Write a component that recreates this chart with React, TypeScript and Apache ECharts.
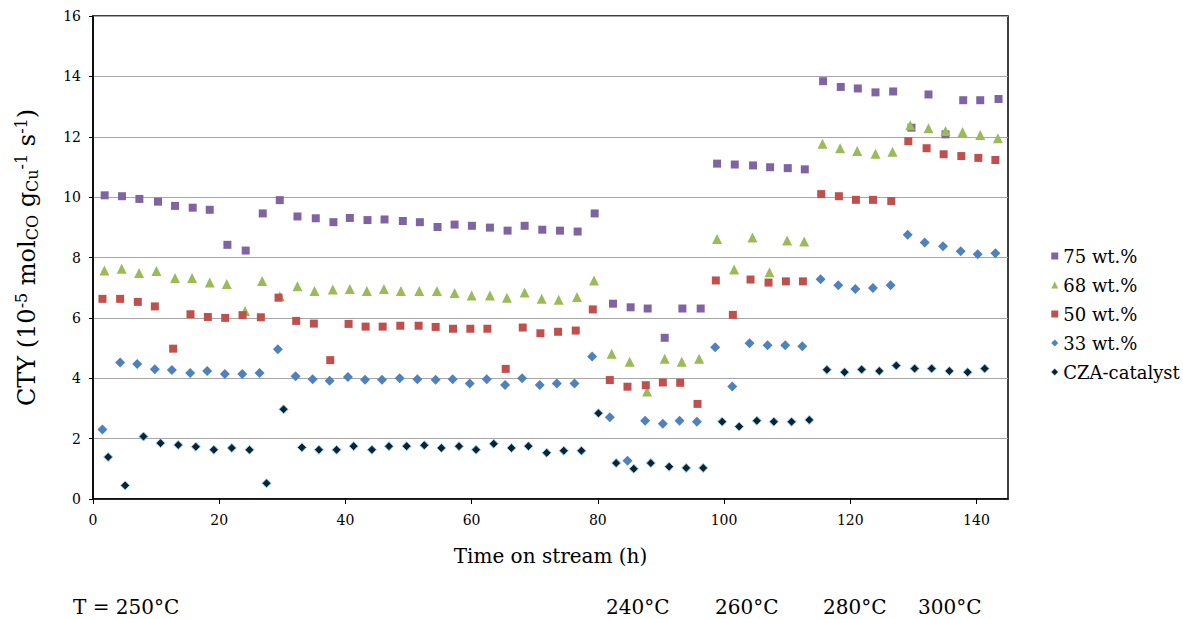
import { useEffect, useRef } from "react";
import * as echarts from "echarts";

// ---- Data ----
const hours75 = [1.85, 4.6, 7.35, 10.3, 13.0, 15.8, 18.5, 21.3, 24.2, 26.9, 29.6, 32.4, 35.3, 38.1, 40.7, 43.5, 46.2, 49.1, 51.8, 54.6, 57.3, 60.05, 62.9, 65.7, 68.4, 71.2, 74.0, 76.8, 79.5, 82.4, 85.2, 87.9, 90.6, 93.4, 96.3, 98.9, 101.7, 104.6, 107.3, 110.1, 112.8, 115.7, 118.5, 121.2, 124.0, 126.8, 129.7, 132.4, 135.1, 137.9, 140.6, 143.5];
const cty75 = [10.06, 10.03, 9.94, 9.85, 9.71, 9.65, 9.58, 8.42, 8.23, 9.46, 9.9, 9.36, 9.3, 9.17, 9.31, 9.24, 9.26, 9.21, 9.17, 9.01, 9.09, 9.05, 8.99, 8.89, 9.05, 8.92, 8.89, 8.86, 9.46, 6.47, 6.35, 6.31, 5.34, 6.31, 6.31, 11.11, 11.08, 11.05, 10.99, 10.96, 10.92, 13.84, 13.65, 13.6, 13.47, 13.5, 12.3, 13.4, 12.08, 13.21, 13.21, 13.25];

const hours68 = [1.8, 4.55, 7.3, 10.05, 13.0, 15.7, 18.5, 21.2, 24.1, 26.8, 29.6, 32.4, 35.1, 38.0, 40.7, 43.4, 46.1, 48.8, 51.7, 54.5, 57.3, 60.0, 62.9, 65.6, 68.4, 71.1, 73.8, 76.7, 79.4, 82.2, 85.05, 87.8, 90.6, 93.3, 96.05, 98.9, 101.6, 104.5, 107.2, 110.0, 112.7, 115.6, 118.4, 121.1, 124.0, 126.7, 129.5, 132.4, 135.1, 137.8, 140.6, 143.4];
const cty68 = [7.57, 7.63, 7.49, 7.55, 7.32, 7.32, 7.17, 7.12, 6.23, 7.22, 6.72, 7.05, 6.89, 6.94, 6.96, 6.89, 6.96, 6.89, 6.89, 6.89, 6.82, 6.74, 6.74, 6.67, 6.84, 6.63, 6.6, 6.69, 7.24, 4.81, 4.55, 3.56, 4.65, 4.55, 4.65, 8.61, 7.6, 8.66, 7.51, 8.56, 8.53, 11.77, 11.62, 11.53, 11.44, 11.5, 12.38, 12.28, 12.19, 12.16, 12.06, 11.95];

const hours50 = [1.5, 4.3, 7.1, 9.8, 12.7, 15.45, 18.2, 20.95, 23.7, 26.6, 29.4, 32.2, 35.0, 37.6, 40.5, 43.2, 45.9, 48.7, 51.6, 54.3, 57.05, 59.8, 62.5, 65.4, 68.1, 70.9, 73.7, 76.5, 79.2, 81.9, 84.7, 87.6, 90.3, 93.05, 95.8, 98.7, 101.4, 104.2, 107.05, 109.8, 112.5, 115.4, 118.2, 120.9, 123.6, 126.5, 129.2, 132.1, 134.8, 137.6, 140.3, 143.0];
const cty50 = [6.63, 6.63, 6.53, 6.38, 4.98, 6.12, 6.03, 6.0, 6.09, 6.02, 6.67, 5.9, 5.81, 4.6, 5.8, 5.71, 5.71, 5.74, 5.74, 5.7, 5.64, 5.64, 5.64, 4.31, 5.68, 5.49, 5.54, 5.58, 6.28, 3.94, 3.72, 3.77, 3.86, 3.85, 3.15, 7.24, 6.1, 7.27, 7.17, 7.21, 7.21, 10.1, 10.03, 9.91, 9.91, 9.87, 11.85, 11.62, 11.42, 11.36, 11.3, 11.23];

const hours33 = [1.5, 4.3, 7.0, 9.8, 12.5, 15.4, 18.1, 20.9, 23.65, 26.4, 29.3, 32.1, 34.8, 37.5, 40.4, 43.1, 45.8, 48.6, 51.4, 54.3, 57.0, 59.7, 62.4, 65.3, 68.0, 70.8, 73.5, 76.3, 79.1, 81.9, 84.7, 87.5, 90.3, 92.95, 95.7, 98.6, 101.3, 104.05, 106.9, 109.7, 112.4, 115.3, 118.1, 120.8, 123.6, 126.4, 129.1, 131.8, 134.7, 137.5, 140.2, 143.0];
const cty33 = [2.3, 4.52, 4.47, 4.3, 4.27, 4.17, 4.24, 4.14, 4.14, 4.17, 4.96, 4.07, 3.97, 3.92, 4.04, 3.95, 3.95, 4.0, 3.97, 3.95, 3.97, 3.83, 3.97, 3.78, 4.0, 3.78, 3.83, 3.83, 4.72, 2.71, 1.27, 2.59, 2.49, 2.59, 2.56, 5.03, 3.73, 5.16, 5.09, 5.09, 5.06, 7.28, 7.08, 6.96, 6.99, 7.08, 8.75, 8.5, 8.37, 8.21, 8.11, 8.14];

const hoursCZA = [2.4, 5.1, 8.0, 10.7, 13.5, 16.3, 19.15, 22.0, 24.8, 27.5, 30.2, 33.1, 35.8, 38.6, 41.3, 44.2, 46.9, 49.7, 52.5, 55.2, 58.0, 60.7, 63.5, 66.3, 69.0, 71.9, 74.6, 77.4, 80.1, 82.9, 85.7, 88.4, 91.3, 94.0, 96.7, 99.7, 102.4, 105.2, 107.9, 110.7, 113.5, 116.3, 119.1, 121.8, 124.6, 127.3, 130.2, 132.9, 135.7, 138.6, 141.3];
const ctyCZA = [1.39, 0.45, 2.07, 1.85, 1.79, 1.73, 1.63, 1.69, 1.63, 0.52, 2.97, 1.71, 1.63, 1.63, 1.75, 1.63, 1.75, 1.75, 1.78, 1.69, 1.75, 1.63, 1.83, 1.69, 1.75, 1.53, 1.6, 1.6, 2.84, 1.19, 1.0, 1.19, 1.07, 1.03, 1.03, 2.56, 2.4, 2.59, 2.56, 2.56, 2.62, 4.28, 4.2, 4.29, 4.24, 4.42, 4.32, 4.32, 4.24, 4.2, 4.32];

const seriesNames = ["75 wt.%", "68 wt.%", "50 wt.%", "33 wt.%", "CZA-catalyst"];
const xTickValues = [0, 20, 40, 60, 80, 100, 120, 140];
const temperatureLabels = ["T = 250°C", "240°C", "260°C", "280°C", "300°C"];

const FONT = "DejaVu Serif";

function pairs(xs: number[], ys: number[]) {
  return xs.map((x, i) => [x, ys[i]]);
}

export default function App() {
  const ref = useRef<HTMLDivElement>(null);

  useEffect(() => {
    if (!ref.current) return;
    const chart = echarts.init(ref.current, null, { renderer: "svg" });

    const styles = [
      { symbol: "rect", size: 8, color: "#8064A2", border: "#8064A2", bw: 0 },
      { symbol: "triangle", size: 10, color: "#9BBB59", border: "#9BBB59", bw: 0 },
      { symbol: "rect", size: 8, color: "#C0504D", border: "#C0504D", bw: 0 },
      { symbol: "diamond", size: 10, color: "#4F81BD", border: "#4F81BD", bw: 0 },
      { symbol: "diamond", size: 9, color: "#0E2235", border: "#8FD3E8", bw: 1 },
    ];
    const dataSets = [
      pairs(hours75, cty75),
      pairs(hours68, cty68),
      pairs(hours50, cty50),
      pairs(hours33, cty33),
      pairs(hoursCZA, ctyCZA),
    ];

    const tempX = [73, 606, 715, 823, 918];

    const option: any = {
      animation: false,
      backgroundColor: "#fff",
      textStyle: { fontFamily: FONT },
      grid: {
        left: 93,
        right: 175,
        top: 16,
        bottom: 120,
        show: true,
        borderColor: "#000",
        borderWidth: 1.5,
        backgroundColor: "transparent",
      },
      legend: {
        orient: "vertical",
        left: 1046,
        top: 242,
        itemWidth: 7,
        itemHeight: 7,
        itemGap: 11,
        textStyle: { fontFamily: FONT, fontSize: 18, color: "#000" },
        data: seriesNames.map((n, i) =>
          i === 4 ? { name: n, itemStyle: { borderWidth: 0.5, borderColor: "#8FD3E8" } } : { name: n }
        ),
      },
      xAxis: {
        type: "value",
        min: 0,
        max: 145,
        interval: 20,
        name: "Time on stream (h)",
        nameLocation: "middle",
        nameGap: 47,
        nameTextStyle: { fontFamily: FONT, fontSize: 20, color: "#000" },
        axisLine: { show: true, lineStyle: { color: "#000", width: 1.5 } },
        axisTick: { show: true, length: 5, lineStyle: { color: "#000" }, customValues: xTickValues },
        axisLabel: {
          fontFamily: FONT,
          fontSize: 14,
          color: "#000",
          margin: 14,
          customValues: xTickValues,
          formatter: (v: number) => (v % 20 === 0 ? String(v) : ""),
        },
        splitLine: { show: false },
      },
      yAxis: {
        type: "value",
        min: 0,
        max: 16,
        interval: 2,
        name:
          "{m|CTY (10}{sup|-5}{m| mol}{sub|CO}{m| g}{sub|Cu}{sup|-1}{m| s}{sup|-1}{m|)}",
        nameLocation: "middle",
        nameRotate: 90,
        nameGap: 52,
        nameTextStyle: {
          fontFamily: FONT,
          color: "#000",
          rich: {
            m: { fontFamily: FONT, fontSize: 24, color: "#000" },
            sup: { fontFamily: FONT, fontSize: 16, color: "#000", padding: [0, 0, 12, 0] },
            sub: { fontFamily: FONT, fontSize: 16, color: "#000", padding: [10, 0, 0, 0] },
          },
        },
        axisLine: { show: true, lineStyle: { color: "#000", width: 1.5 } },
        axisTick: { show: true, length: 4, lineStyle: { color: "#000" } },
        axisLabel: { fontFamily: FONT, fontSize: 14, color: "#000", margin: 12 },
        splitLine: { show: true, lineStyle: { color: "#A6A6A6", width: 1 } },
      },
      series: seriesNames.map((name, i) => ({
        name,
        type: "scatter",
        data: dataSets[i],
        symbol: styles[i].symbol,
        symbolSize: styles[i].size,
        itemStyle: {
          color: styles[i].color,
          borderColor: styles[i].border,
          borderWidth: styles[i].bw,
          opacity: 1,
        },
        emphasis: { disabled: true },
        z: 2 + i,
      })),
      graphic: temperatureLabels.map((t, i) => ({
        type: "text",
        left: tempX[i],
        top: 597,
        style: { text: t, fontFamily: FONT, fontSize: 20, fill: "#000" },
      })),
    };

    chart.setOption(option);
    return () => chart.dispose();
  }, []);

  return (
    <div
      ref={ref}
      style={{ position: "absolute", left: 0, top: 0, width: 1183, height: 619, background: "#fff" }}
    />
  );
}
